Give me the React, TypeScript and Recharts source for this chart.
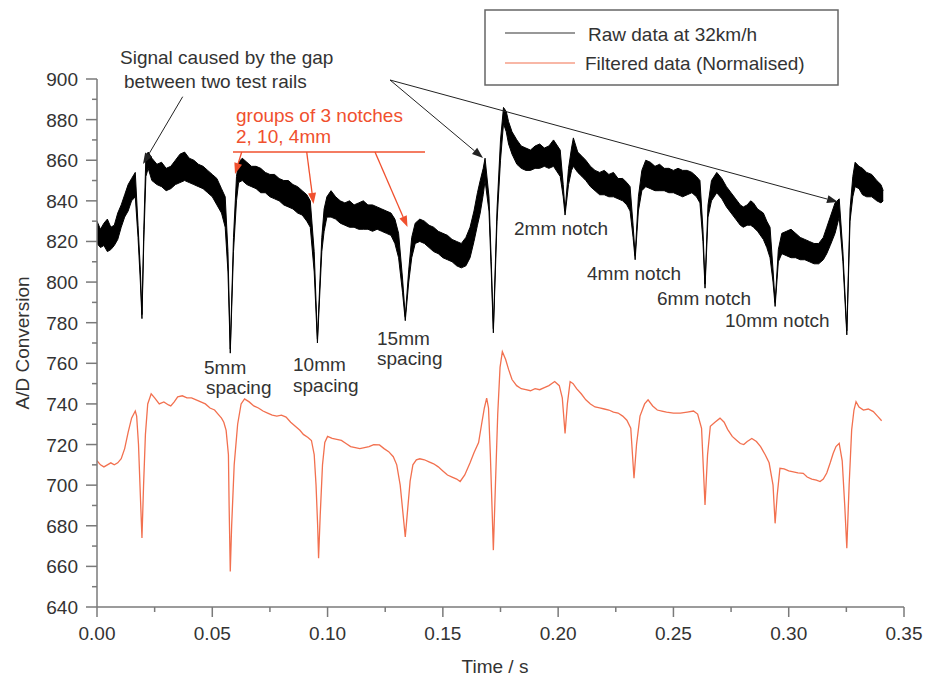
import React from 'react';
import { ComposedChart, Area, Line, XAxis, YAxis } from 'recharts';

// raw signal, drawn as its noise envelope: [time, low, high]
const rawPoints = [
  [0.0, 819, 830], [0.0015, 817, 826], [0.003, 818, 829], [0.0045, 815, 831], [0.006, 816, 827],
  [0.0075, 818, 828], [0.009, 821, 834], [0.0105, 827, 838], [0.012, 832, 843], [0.0135, 835, 848],
  [0.015, 840, 851], [0.0166, 842, 854],
  [0.0178, 822, 828], [0.0188, 800, 806], [0.0195, 782, 784], [0.0203, 820, 826], [0.0212, 852, 862],
  [0.0222, 856, 864],
  [0.0238, 850, 861], [0.026, 848, 858], [0.028, 847, 859], [0.03, 845, 856], [0.032, 846, 857],
  [0.034, 848, 860], [0.036, 849, 863], [0.038, 850, 864], [0.04, 849, 861], [0.042, 848, 860],
  [0.044, 847, 858], [0.046, 846, 857], [0.048, 844, 855], [0.05, 842, 853], [0.052, 838, 851],
  [0.054, 834, 846], [0.0556, 827, 842],
  [0.0568, 805, 815], [0.0578, 765, 767], [0.0592, 815, 822],
  [0.0605, 840, 852], [0.0614, 849, 859], [0.063, 850, 861], [0.065, 848, 859], [0.067, 847, 857],
  [0.069, 846, 857], [0.071, 844, 856], [0.073, 844, 854], [0.075, 842, 853], [0.077, 841, 853],
  [0.079, 840, 851], [0.081, 838, 850], [0.083, 837, 850], [0.085, 836, 848], [0.087, 834, 847],
  [0.089, 833, 845], [0.091, 830, 843], [0.0925, 827, 840],
  [0.0942, 805, 815], [0.0956, 770, 772], [0.0975, 815, 822],
  [0.0985, 825, 836], [0.0997, 832, 842], [0.1015, 832, 845], [0.1035, 831, 842], [0.1055, 829, 840],
  [0.1075, 828, 839], [0.1095, 827, 840], [0.1115, 827, 838], [0.1135, 826, 839], [0.1155, 826, 840],
  [0.1175, 826, 838], [0.1195, 825, 838], [0.1215, 826, 837], [0.1235, 825, 836], [0.1255, 824, 835],
  [0.1275, 823, 834], [0.1292, 819, 831], [0.1308, 812, 824],
  [0.1325, 795, 802], [0.1337, 781, 783], [0.1352, 800, 806],
  [0.1365, 812, 822], [0.138, 819, 829], [0.14, 820, 831], [0.142, 819, 830], [0.144, 817, 828],
  [0.146, 815, 827], [0.148, 814, 825], [0.15, 812, 824], [0.152, 811, 823], [0.154, 810, 821],
  [0.156, 808, 820], [0.158, 807, 819], [0.16, 808, 822], [0.1618, 812, 827], [0.1635, 820, 835],
  [0.165, 828, 844], [0.1662, 834, 850], [0.1675, 843, 856], [0.1683, 850, 861],
  [0.17, 835, 842], [0.171, 805, 810], [0.1719, 775, 777], [0.1735, 830, 836], [0.175, 860, 870],
  [0.1763, 878, 886], [0.1775, 874, 884], [0.1785, 868, 879], [0.18, 863, 874], [0.1821, 858, 870],
  [0.184, 856, 867], [0.186, 855, 866], [0.188, 855, 865], [0.19, 856, 867], [0.192, 856, 868],
  [0.194, 857, 866], [0.196, 856, 867], [0.198, 857, 870], [0.2009, 852, 865],
  [0.2022, 842, 848], [0.203, 833, 835],
  [0.2045, 848, 856], [0.2058, 855, 866], [0.2066, 857, 871], [0.2085, 854, 864], [0.2103, 852, 862],
  [0.212, 850, 860], [0.214, 847, 857], [0.216, 845, 855], [0.218, 843, 854], [0.22, 843, 855],
  [0.222, 842, 853], [0.224, 842, 854], [0.226, 841, 851], [0.228, 840, 851], [0.2298, 838, 849],
  [0.2312, 835, 847],
  [0.2325, 822, 828], [0.2334, 811, 813],
  [0.2348, 835, 842], [0.2363, 845, 855], [0.238, 847, 860], [0.24, 846, 859], [0.242, 845, 857],
  [0.244, 845, 858], [0.246, 845, 856], [0.248, 844, 856], [0.25, 844, 855], [0.252, 843, 856],
  [0.254, 842, 855], [0.256, 843, 855], [0.258, 844, 854], [0.26, 842, 852], [0.2615, 839, 850],
  [0.2628, 820, 826], [0.2637, 797, 799],
  [0.265, 832, 838], [0.2665, 840, 850], [0.2688, 844, 854], [0.271, 841, 851], [0.273, 837, 847],
  [0.275, 834, 844], [0.277, 831, 841], [0.279, 828, 838], [0.2803, 827, 837], [0.282, 828, 838],
  [0.2835, 828, 840], [0.2847, 827, 839], [0.2865, 825, 836], [0.289, 821, 834], [0.2905, 817, 830],
  [0.2919, 812, 827],
  [0.2932, 800, 806], [0.2941, 788, 790],
  [0.2955, 810, 816], [0.297, 814, 824], [0.299, 813, 825], [0.301, 812, 826], [0.303, 812, 824],
  [0.305, 811, 822], [0.307, 811, 821], [0.309, 810, 820], [0.311, 809, 819], [0.313, 809, 819],
  [0.315, 811, 822], [0.3165, 814, 827], [0.318, 818, 832], [0.3201, 824, 839], [0.3219, 832, 841],
  [0.3235, 810, 815], [0.3252, 774, 776],
  [0.3266, 830, 836], [0.3278, 842, 852], [0.3288, 847, 859], [0.3305, 846, 857], [0.332, 843, 856],
  [0.3338, 842, 854], [0.336, 842, 853], [0.3382, 840, 850], [0.34, 839, 848], [0.341, 840, 845],
];

// filtered (normalised) trace: [time, value]
const filteredPoints = [
  [0.0, 712], [0.0015, 710], [0.003, 709], [0.0045, 710], [0.006, 711], [0.0075, 710], [0.009, 711],
  [0.0105, 713], [0.012, 718], [0.0135, 726], [0.015, 733], [0.0166, 736.5], [0.0172, 734], [0.018, 720],
  [0.0188, 695], [0.0195, 674], [0.0202, 700], [0.021, 725], [0.022, 740], [0.0235, 745], [0.025, 743],
  [0.027, 740], [0.029, 741], [0.031, 739.5], [0.032, 739], [0.0335, 741], [0.035, 743.5], [0.037, 744],
  [0.039, 743], [0.041, 743], [0.043, 742], [0.045, 741], [0.047, 740], [0.049, 738], [0.051, 737],
  [0.0525, 735], [0.054, 733], [0.055, 731], [0.056, 727], [0.057, 715], [0.0573, 690], [0.0578, 657.5],
  [0.0584, 680], [0.0595, 710], [0.061, 730], [0.0625, 740], [0.064, 742.5], [0.066, 741], [0.068, 739],
  [0.07, 738], [0.072, 736.5], [0.074, 735.5], [0.076, 734.5], [0.078, 734], [0.08, 734.5], [0.082, 733.5],
  [0.084, 731], [0.086, 729], [0.088, 727], [0.0895, 725], [0.0915, 723.5], [0.093, 722], [0.0942, 715],
  [0.095, 700], [0.0957, 680], [0.0961, 664], [0.0968, 685], [0.0978, 710], [0.0988, 721], [0.1, 724],
  [0.102, 723], [0.104, 722.5], [0.106, 722], [0.108, 720.5], [0.11, 719], [0.112, 718.5], [0.114, 718],
  [0.116, 718.5], [0.118, 719], [0.12, 720], [0.1225, 719.8], [0.1245, 718], [0.1265, 716.5], [0.1285, 714],
  [0.13, 710], [0.1315, 700], [0.1328, 685], [0.1337, 674.5], [0.1345, 685], [0.1358, 702], [0.137, 710],
  [0.1385, 712.5], [0.14, 713], [0.142, 712.5], [0.144, 711.5], [0.146, 710.5], [0.148, 709], [0.15, 707],
  [0.152, 705], [0.154, 704], [0.156, 703], [0.1575, 701.8], [0.1595, 705], [0.1618, 711], [0.1635, 716],
  [0.1655, 721], [0.1668, 730], [0.168, 738], [0.169, 742.9], [0.1698, 738], [0.1706, 715], [0.1713, 690],
  [0.1719, 668], [0.1728, 700], [0.1738, 735], [0.1748, 758], [0.1758, 765.7], [0.1772, 762], [0.1785, 757],
  [0.18, 752], [0.182, 749], [0.184, 747.5], [0.186, 747], [0.188, 746.5], [0.19, 747.5], [0.192, 747],
  [0.194, 748], [0.196, 749], [0.1985, 751], [0.2005, 749], [0.2018, 743], [0.203, 725.5], [0.204, 740],
  [0.2052, 751], [0.2065, 750], [0.208, 747.5], [0.21, 745], [0.212, 742], [0.214, 740], [0.216, 738.5],
  [0.218, 738], [0.22, 737.5], [0.222, 737], [0.224, 736], [0.226, 735.5], [0.228, 734], [0.2298, 732],
  [0.2315, 728], [0.2329, 703.4], [0.234, 720], [0.2355, 734], [0.2375, 740], [0.239, 742], [0.241, 739],
  [0.243, 737], [0.245, 736.5], [0.247, 736], [0.25, 735.5], [0.253, 735.5], [0.256, 736], [0.2587, 736.5],
  [0.2605, 735], [0.2622, 728], [0.2637, 690.2], [0.2648, 715], [0.266, 729], [0.268, 731], [0.2702, 733],
  [0.272, 731], [0.2735, 727.5], [0.2755, 724], [0.2775, 722], [0.279, 720.5], [0.2805, 720], [0.282, 721.5],
  [0.284, 723], [0.286, 721.5], [0.2878, 719], [0.2898, 715], [0.2915, 711], [0.2932, 700], [0.2941, 681.2],
  [0.295, 695], [0.2962, 708.3], [0.298, 708], [0.3, 707], [0.302, 706.5], [0.304, 706], [0.3063, 705.8],
  [0.308, 704], [0.31, 703], [0.312, 702.5], [0.3136, 701.8], [0.315, 703], [0.3165, 706], [0.318, 711],
  [0.3193, 715.7], [0.3205, 719], [0.3219, 720.6], [0.3232, 712], [0.3243, 690], [0.3252, 668.9],
  [0.3262, 700], [0.3273, 727.2], [0.3283, 737], [0.3292, 741.1], [0.3305, 738.5], [0.3324, 737],
  [0.3345, 737.5], [0.3367, 736.2], [0.3385, 734], [0.3403, 731.7],
];

const xTicks = [0, 0.025, 0.05, 0.075, 0.1, 0.125, 0.15, 0.175, 0.2, 0.225, 0.25, 0.275, 0.3, 0.325, 0.35];
const yTicks = [
  640, 650, 660, 670, 680, 690, 700, 710, 720, 730, 740, 750, 760, 770,
  780, 790, 800, 810, 820, 830, 840, 850, 860, 870, 880, 890, 900,
];

const rawData = rawPoints.map(([t, lo, hi]) => ({ t, raw: [lo, hi] }));
const filtData = filteredPoints.map(([t, v]) => ({ t, filt: v }));

const FONT = '"Liberation Sans", Arial, sans-serif';
const AXIS = '#7a7a7a';
const TEXT = '#333';
const ORANGE = '#f2704f';
const RED = '#f0502e';

const XTick = (props: any) => {
  const { x, y, payload } = props;
  const major = Math.round(payload.value * 1000) % 50 === 0;
  return (
    <g>
      <line x1={x} y1={y} x2={x} y2={y + (major ? 10 : 5)} stroke={AXIS} strokeWidth={1.5} />
      {major && (
        <text x={x} y={y + 33} textAnchor="middle" fontSize={19} fill={TEXT} fontFamily={FONT}>
          {payload.value.toFixed(2)}
        </text>
      )}
    </g>
  );
};

const YTick = (props: any) => {
  const { x, y, payload } = props;
  const major = payload.value % 20 === 0;
  return (
    <g>
      <line x1={x} y1={y} x2={x - (major ? 11 : 5)} y2={y} stroke={AXIS} strokeWidth={1.5} />
      {major && (
        <text x={x - 19} y={y + 7} textAnchor="end" fontSize={19} fill={TEXT} fontFamily={FONT}>
          {payload.value}
        </text>
      )}
    </g>
  );
};

function Arrow({ x1, y1, x2, y2, color, w = 1 }: any) {
  const a = Math.atan2(y2 - y1, x2 - x1);
  const len = 11;
  const half = 4;
  const bx = x2 - len * Math.cos(a);
  const by = y2 - len * Math.sin(a);
  const px = -Math.sin(a) * half;
  const py = Math.cos(a) * half;
  return (
    <g>
      <line x1={x1} y1={y1} x2={bx} y2={by} stroke={color} strokeWidth={w} />
      <polygon points={`${x2},${y2} ${bx + px},${by + py} ${bx - px},${by - py}`} fill={color} />
    </g>
  );
}

const labels = [
  { s: 'Signal caused by the gap', x: 120, y: 64 },
  { s: 'between two test rails', x: 124, y: 88 },
  { s: '5mm', x: 204, y: 374 },
  { s: 'spacing', x: 206, y: 394 },
  { s: '10mm', x: 293, y: 371 },
  { s: 'spacing', x: 293, y: 392 },
  { s: '15mm', x: 377, y: 345 },
  { s: 'spacing', x: 377, y: 365 },
  { s: '2mm notch', x: 514, y: 235 },
  { s: '4mm notch', x: 587, y: 280 },
  { s: '6mm notch', x: 657, y: 305 },
  { s: '10mm notch', x: 725, y: 327 },
];

export default function App() {
  return (
    <div style={{ position: 'absolute', left: 0, top: 0, width: 928, height: 677, background: '#fff' }}>
      <ComposedChart width={928} height={677} margin={{ top: 79, right: 24, bottom: 30, left: 37 }}>
        <XAxis
          dataKey="t"
          type="number"
          domain={[0, 0.35]}
          ticks={xTicks}
          interval={0}
          tick={XTick}
          tickLine={false}
          tickSize={0}
          tickMargin={0}
          axisLine={{ stroke: AXIS, strokeWidth: 1.5 }}
          height={40}
          allowDataOverflow
        />
        <YAxis
          type="number"
          domain={[640, 900]}
          ticks={yTicks}
          interval={0}
          tick={YTick}
          tickLine={false}
          tickSize={0}
          tickMargin={0}
          axisLine={{ stroke: AXIS, strokeWidth: 1.5 }}
          width={60}
          allowDataOverflow
        />
        <Line
          data={filtData}
          dataKey="filt"
          type="linear"
          stroke={ORANGE}
          strokeWidth={1.3}
          dot={false}
          isAnimationActive={false}
        />
        <Area
          data={rawData}
          dataKey="raw"
          type="linear"
          stroke="#000"
          strokeWidth={1}
          fill="#000"
          fillOpacity={1}
          dot={false}
          activeDot={false}
          isAnimationActive={false}
        />
      </ComposedChart>
      <svg
        width={928}
        height={677}
        style={{ position: 'absolute', left: 0, top: 0, pointerEvents: 'none' }}
        fontFamily={FONT}
      >
        {labels.map((l, i) => (
          <text key={i} x={l.x} y={l.y} fontSize={19} fill={TEXT}>
            {l.s}
          </text>
        ))}
        <text x={236} y={122} fontSize={19} fill={RED}>groups of 3 notches</text>
        <text x={236} y={143} fontSize={19} fill={RED}>2, 10, 4mm</text>
        <line x1={233} y1={152} x2={425} y2={152} stroke={RED} strokeWidth={1.3} />
        <Arrow x1={241.7} y1={152} x2={235} y2={174} color={RED} w={1.3} />
        <Arrow x1={306.7} y1={152} x2={313.5} y2={204} color={RED} w={1.3} />
        <Arrow x1={375} y1={152} x2={407.5} y2={227} color={RED} w={1.3} />

        <Arrow x1={182.7} y1={96.7} x2={143} y2={164} color="#222" />
        <Arrow x1={390} y1={80} x2={483} y2={158} color="#222" />
        <Arrow x1={390} y1={80} x2={838} y2={202} color="#222" />

        <rect x={485} y={10} width={353} height={75} fill="#fff" stroke="#666" strokeWidth={1.5} />
        <line x1={505} y1={33} x2={575} y2={33} stroke="#333" strokeWidth={1.2} />
        <text x={588} y={41} fontSize={19} fill={TEXT}>Raw data at 32km/h</text>
        <line x1={505} y1={63} x2={575} y2={63} stroke={ORANGE} strokeWidth={1.2} />
        <text x={585} y={70} fontSize={19} fill={TEXT}>Filtered data (Normalised)</text>

        <text x={495} y={673} fontSize={19} fill={TEXT} textAnchor="middle">Time / s</text>
        <text
          x={0}
          y={0}
          fontSize={19}
          fill={TEXT}
          textAnchor="middle"
          transform="translate(29 343) rotate(-90)"
        >
          A/D Conversion
        </text>
      </svg>
    </div>
  );
}
